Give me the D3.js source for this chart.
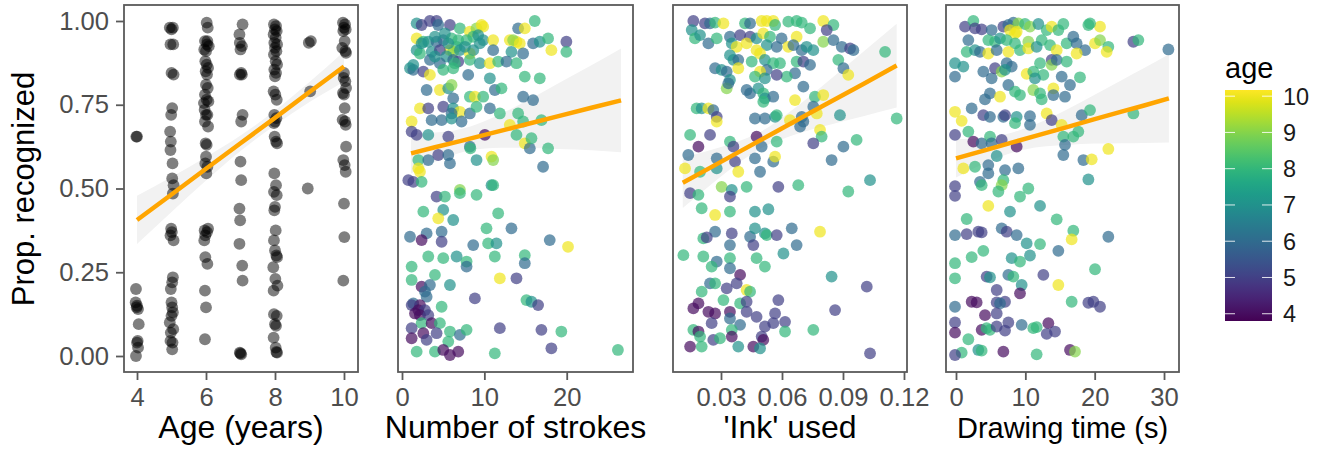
<!DOCTYPE html>
<html>
<head>
<meta charset="utf-8">
<script src="https://cdn.jsdelivr.net/npm/d3@7"></script>
<style>
  body { margin: 0; background: #fff; }
  text { font-family: "Liberation Sans", Arial, Helvetica, sans-serif; }
</style>
</head>
<body>
<script>
// ---- data ----
const yTicks = [0, 0.25, 0.5, 0.75, 1];
const ageTicks = [4, 6, 8, 10];
const strokeTicks = [0, 10, 20];
const inkTicks = [0.03, 0.06, 0.09, 0.12];
const timeTicks = [0, 10, 20, 30];
const legendTicks = [4, 5, 6, 7, 8, 9, 10];
const ageRange = [3.8, 10.17];

// panel 1: [age (jittered), prop. recognized]
const agePoints = [
  [3.98,0.655],[4.0,0.655],[3.97,0.20],[3.96,0.16],[4.0,0.15],[4.03,0.14],[3.99,0.145],[4.05,0.095],
  [4.02,0.045],[4.0,0.04],[4.03,0.025],[3.97,0.0],
  [4.95,0.98],[5.0,0.975],[5.04,0.98],[4.97,0.93],[5.05,0.93],[5.0,0.845],[5.06,0.84],[5.02,0.74],
  [4.99,0.72],[4.96,0.67],[4.98,0.64],[4.97,0.615],[5.03,0.575],[5.02,0.53],[5.06,0.51],[5.04,0.485],
  [4.99,0.38],[5.01,0.37],[4.97,0.36],[5.06,0.345],[5.04,0.235],[5.02,0.22],[4.98,0.20],[5.0,0.16],
  [5.02,0.145],[5.04,0.13],[5.0,0.12],[4.95,0.10],[5.05,0.08],[4.98,0.07],[4.97,0.045],[5.03,0.04],[5.02,0.02],
  [6.02,0.995],[6.05,0.98],[5.97,0.94],[6.03,0.93],[6.08,0.925],[5.95,0.915],[6.0,0.91],[6.04,0.94],
  [5.98,0.88],[6.02,0.87],[6.06,0.86],[5.99,0.85],[6.03,0.84],[6.0,0.81],[6.05,0.80],[5.97,0.78],
  [6.02,0.765],[5.94,0.755],[6.07,0.76],[5.96,0.735],[6.0,0.72],[6.04,0.72],[5.97,0.70],[6.06,0.685],
  [5.99,0.635],[6.02,0.63],[6.0,0.595],[5.98,0.575],[6.04,0.565],[6.01,0.545],[5.96,0.375],[6.03,0.37],
  [6.06,0.38],[5.98,0.36],[5.95,0.345],[5.98,0.295],[6.04,0.275],[5.97,0.195],[6.0,0.145],[5.97,0.05],
  [7.06,0.99],[6.97,0.96],[6.98,0.935],[7.04,0.925],[7.0,0.915],[7.02,0.845],[6.98,0.84],[7.04,0.84],
  [7.06,0.72],[7.02,0.70],[7.0,0.58],[7.02,0.525],[6.97,0.44],[6.99,0.405],[6.97,0.335],[7.05,0.27],
  [7.06,0.225],[6.98,0.01],[7.02,0.005],[7.0,0.008],
  [7.97,0.99],[8.03,0.985],[8.0,0.975],[8.05,0.97],[7.96,0.96],[8.02,0.95],[7.98,0.935],[8.06,0.93],
  [8.0,0.92],[8.04,0.91],[7.97,0.90],[8.02,0.88],[8.06,0.87],[7.98,0.855],[8.03,0.845],[8.0,0.835],
  [7.96,0.79],[8.01,0.78],[8.05,0.765],[7.98,0.72],[8.04,0.71],[8.0,0.70],[7.97,0.695],[7.99,0.655],
  [8.03,0.64],[8.06,0.635],[7.98,0.545],[8.03,0.51],[7.97,0.49],[8.05,0.48],[8.0,0.445],[7.98,0.435],
  [8.02,0.375],[7.97,0.345],[8.0,0.315],[8.04,0.30],[8.06,0.295],[7.95,0.265],[8.01,0.23],[8.07,0.21],
  [7.96,0.195],[7.97,0.125],[8.05,0.12],[8.0,0.095],[8.03,0.09],[7.96,0.055],[8.02,0.025],[8.06,0.01],[8.04,0.012],
  [8.98,0.935],[9.04,0.94],[9.02,0.79],[8.95,0.50],
  [9.97,0.995],[10.03,0.99],[10.0,0.98],[10.05,0.975],[9.98,0.97],[10.02,0.94],[9.95,0.92],[10.04,0.91],
  [10.06,0.905],[10.0,0.845],[9.99,0.83],[10.04,0.82],[10.06,0.80],[9.97,0.785],[10.0,0.78],[10.02,0.74],
  [9.96,0.705],[10.03,0.70],[10.05,0.69],[10.06,0.625],[9.98,0.585],[10.02,0.57],[10.05,0.55],[10.0,0.455],
  [10.01,0.355],[9.98,0.225]
];

// panel 2: [strokes, prop. recognized, age]
const strokePoints = [
  [1.78,0.993,7],[2.38,0.988,5],[3.39,1.0,5],[4.2,1.0,5],[4.4,0.988,6],[5.82,0.988,5],[7.03,0.978,8],
  [8.24,0.968,10],[9.05,0.978,9],[9.66,0.988,10],[9.86,0.983,10],[8.65,0.953,8],[9.25,0.958,7],
  [14.1,0.978,6],[14.91,0.978,10],[16.12,1.0,8],[1.78,0.948,10],[2.59,0.938,8],[3.19,0.938,7],
  [4.2,0.938,6],[5.01,0.943,6],[6.02,0.948,8],[6.83,0.943,8],[7.84,0.943,8],[6.63,0.923,8],
  [5.82,0.913,10],[6.22,0.908,9],[7.03,0.913,7],[8.24,0.903,10],[8.65,0.913,7],[9.45,0.933,7],
  [9.86,0.943,7],[11.07,0.943,10],[13.09,0.943,10],[13.9,0.938,10],[13.49,0.943,9],[14.3,0.933,10],
  [15.92,0.933,6],[16.73,0.938,7],[17.74,0.948,8],[19.96,0.938,5],[18.14,0.913,10],[19.96,0.908,8],
  [11.07,0.913,6],[13.29,0.908,7],[14.71,0.903,6],[1.78,0.913,7],[2.18,0.903,8],[3.6,0.908,7],
  [4.6,0.913,5],[5.41,0.894,7],[3.39,0.884,6],[4.6,0.874,6],[6.22,0.884,6],[6.83,0.879,5],
  [8.24,0.884,8],[9.45,0.874,7],[10.67,0.874,10],[11.68,0.879,8],[12.69,0.879,6],[13.9,0.874,8],
  [0.97,0.859,7],[1.37,0.854,6],[2.59,0.849,5],[3.39,0.839,10],[5.01,0.854,8],[6.22,0.859,8],
  [8.04,0.839,6],[10.67,0.829,7],[14.91,0.834,8],[16.73,0.829,8],[2.38,0.933,7],[4.0,0.953,7],
  [5.21,0.963,7],[7.64,0.923,7],[5.62,0.933,7],[4.0,0.894,7],[6.42,0.874,8],[1.37,0.869,7],
  [2.99,0.794,6],[4.6,0.794,10],[5.62,0.799,7],[6.02,0.809,9],[8.24,0.774,8],[8.85,0.774,10],
  [9.86,0.774,8],[11.27,0.794,6],[12.08,0.799,8],[14.71,0.774,6],[15.92,0.764,6],[6.22,0.769,6],
  [2.18,0.739,10],[3.19,0.739,5],[5.01,0.744,5],[6.22,0.739,7],[7.03,0.729,10],[6.02,0.724,6],
  [8.24,0.724,6],[9.05,0.744,8],[10.67,0.739,6],[11.88,0.724,8],[14.1,0.724,8],[3.6,0.704,6],
  [4.81,0.704,6],[6.02,0.709,7],[7.23,0.7,6],[1.17,0.7,10],[13.09,0.69,10],[14.71,0.7,8],
  [16.93,0.704,8],[1.17,0.67,5],[1.78,0.66,5],[3.19,0.66,7],[5.62,0.655,5],[10.06,0.66,4],
  [13.9,0.66,8],[8.24,0.625,6],[8.3,0.62,8],[14.91,0.635,10],[15.52,0.62,6],[15.72,0.65,8],
  [17.74,0.62,8],[1.98,0.585,8],[3.19,0.585,6],[4.4,0.6,5],[5.62,0.6,6],[5.82,0.575,6],
  [9.05,0.585,7],[10.87,0.595,10],[11.07,0.585,9],[1.98,0.56,10],[2.18,0.55,10],[17.13,0.565,6],
  [0.77,0.525,5],[1.37,0.52,5],[2.38,0.52,8],[7.03,0.496,9],[7.03,0.486,8],[9.05,0.481,8],
  [10.87,0.51,7],[11.07,0.51,8],[4.2,0.476,5],[5.21,0.476,8],[2.59,0.431,8],[5.01,0.436,7],
  [4.4,0.411,10],[6.22,0.406,7],[10.26,0.381,8],[13.29,0.381,6],[0.97,0.356,6],[2.99,0.366,6],
  [2.38,0.346,4],[4.81,0.371,6],[4.81,0.341,5],[8.65,0.331,6],[10.46,0.336,8],[11.47,0.336,7],
  [11.68,0.426,8],[17.94,0.346,6],[20.16,0.326,10],[3.19,0.297,8],[5.01,0.292,8],[6.63,0.297,7],
  [7.84,0.282,8],[7.84,0.267,6],[11.27,0.297,8],[14.91,0.301,8],[14.91,0.277,6],[1.17,0.267,8],
  [4.0,0.242,8],[1.17,0.227,8],[5.82,0.212,7],[2.38,0.207,4],[3.39,0.212,6],[11.88,0.232,10],
  [13.9,0.232,5],[2.79,0.192,6],[2.99,0.177,6],[1.37,0.157,6],[2.18,0.152,4],[1.17,0.152,5],
  [1.98,0.137,4],[2.79,0.137,5],[1.58,0.127,4],[2.18,0.122,4],[3.19,0.122,5],[4.81,0.147,8],
  [8.85,0.172,5],[15.11,0.167,8],[15.72,0.162,7],[16.53,0.152,5],[2.38,0.098,8],[3.6,0.098,4],
  [4.6,0.098,8],[1.17,0.083,5],[2.59,0.068,4],[4.2,0.068,5],[5.82,0.073,8],[7.03,0.063,6],
  [7.84,0.078,8],[1.17,0.053,4],[2.99,0.048,5],[5.62,0.043,8],[11.88,0.083,5],[16.93,0.078,5],
  [19.35,0.073,8],[1.78,0.013,8],[4.0,0.013,8],[5.01,0.018,4],[5.82,0.003,4],[6.83,0.013,4],
  [11.27,0.008,8],[18.14,0.023,5],[26.22,0.018,8]
];

// panel 3: ['ink' used, prop. recognized, age]
const inkPoints = [
  [0.0164,1.0,5],[0.0221,0.993,5],[0.0246,0.993,6],[0.0271,0.995,8],[0.0312,0.993,10],[0.0418,0.993,8],
  [0.0443,0.993,6],[0.05,1.0,10],[0.0525,1.0,10],[0.0557,1.0,10],[0.0566,0.988,8],[0.0631,0.998,8],
  [0.0672,1.0,8],[0.0697,0.995,8],[0.0738,0.978,8],[0.0803,1.0,10],[0.0853,0.988,8],[0.082,0.973,5],
  [0.0156,0.973,7],[0.0172,0.948,8],[0.0197,0.958,7],[0.0238,0.933,6],[0.0279,0.948,8],[0.0344,0.953,6],
  [0.0394,0.958,5],[0.0443,0.953,5],[0.0353,0.933,7],[0.0377,0.923,10],[0.0426,0.933,10],[0.0475,0.948,7],
  [0.0508,0.963,10],[0.0541,0.953,8],[0.0598,0.948,6],[0.0631,0.923,10],[0.0672,0.953,10],[0.0656,0.928,6],
  [0.0697,0.913,6],[0.0754,0.913,7],[0.0803,0.938,9],[0.0853,0.943,6],[0.0894,0.923,6],[0.0935,0.918,5],
  [0.0951,0.913,6],[0.1107,0.908,8],[0.0721,0.923,7],[0.0525,0.928,7],[0.0574,0.923,6],[0.0475,0.913,10],
  [0.0344,0.898,7],[0.0361,0.884,7],[0.0385,0.884,6],[0.0451,0.879,8],[0.0492,0.903,10],[0.0516,0.884,7],
  [0.0557,0.874,8],[0.059,0.874,8],[0.0672,0.879,8],[0.0705,0.879,5],[0.0738,0.869,6],[0.0271,0.859,6],
  [0.0303,0.854,7],[0.0328,0.849,6],[0.0385,0.859,10],[0.0525,0.854,6],[0.0492,0.849,10],[0.0664,0.844,6],
  [0.0623,0.834,8],[0.0574,0.839,5],[0.0877,0.884,8],[0.0902,0.859,6],[0.0926,0.839,10],[0.0467,0.834,8],
  [0.0516,0.829,7],[0.0344,0.824,7],[0.0328,0.799,9],[0.0336,0.814,6],[0.0426,0.794,6],[0.0443,0.784,6],
  [0.0484,0.799,7],[0.0508,0.784,8],[0.0516,0.769,7],[0.0557,0.774,6],[0.0705,0.804,6],[0.0762,0.774,8],
  [0.0803,0.779,10],[0.0664,0.764,10],[0.0508,0.759,8],[0.018,0.739,8],[0.0205,0.739,7],[0.0238,0.739,10],
  [0.0262,0.734,6],[0.0279,0.714,5],[0.0279,0.7,10],[0.0467,0.709,6],[0.0516,0.709,6],[0.0566,0.714,7],
  [0.0574,0.719,8],[0.0639,0.704,10],[0.0697,0.714,6],[0.0705,0.7,6],[0.0754,0.744,6],[0.0771,0.724,10],
  [0.0885,0.719,7],[0.1164,0.709,8],[0.0787,0.675,10],[0.0795,0.655,8],[0.0148,0.66,8],[0.0246,0.66,5],
  [0.0475,0.655,4],[0.0344,0.64,8],[0.0361,0.625,5],[0.05,0.625,6],[0.0574,0.64,8],[0.0754,0.635,5],
  [0.0902,0.625,6],[0.0967,0.645,8],[0.0689,0.685,6],[0.0139,0.6,6],[0.0189,0.625,4],[0.0279,0.59,6],
  [0.0369,0.58,5],[0.0467,0.59,6],[0.0557,0.58,6],[0.0566,0.595,10],[0.0844,0.585,6],[0.0123,0.56,10],
  [0.0197,0.55,8],[0.0279,0.56,7],[0.0385,0.55,10],[0.0492,0.55,6],[0.1033,0.525,7],[0.0303,0.505,9],
  [0.0353,0.496,7],[0.0426,0.505,8],[0.0582,0.505,5],[0.068,0.51,8],[0.0148,0.486,5],[0.0189,0.481,8],
  [0.0344,0.476,5],[0.0926,0.491,8],[0.0205,0.441,8],[0.0271,0.421,10],[0.0344,0.431,8],[0.0467,0.431,7],
  [0.0533,0.438,7],[0.0271,0.371,6],[0.0213,0.351,8],[0.023,0.354,5],[0.0353,0.366,5],[0.0443,0.356,6],
  [0.0467,0.381,7],[0.0516,0.366,7],[0.0525,0.361,8],[0.0574,0.361,5],[0.0648,0.381,6],[0.0672,0.331,6],
  [0.0787,0.371,10],[0.0344,0.331,6],[0.0459,0.331,5],[0.0115,0.301,8],[0.0213,0.297,8],[0.0279,0.282,6],
  [0.0344,0.292,8],[0.0475,0.292,8],[0.0516,0.267,8],[0.0607,0.306,7],[0.0254,0.267,8],[0.0344,0.262,6],
  [0.0394,0.242,4],[0.0377,0.217,5],[0.0246,0.217,6],[0.0271,0.217,8],[0.0328,0.202,5],[0.0205,0.192,8],
  [0.0426,0.197,10],[0.0443,0.192,8],[0.0312,0.167,8],[0.0394,0.157,8],[0.0426,0.162,5],[0.0582,0.167,5],
  [0.0844,0.237,7],[0.1017,0.207,5],[0.0189,0.157,4],[0.0164,0.142,4],[0.0238,0.132,4],[0.0271,0.127,4],
  [0.0344,0.132,4],[0.0344,0.112,6],[0.0426,0.132,5],[0.0475,0.117,5],[0.0566,0.127,5],[0.0254,0.098,5],
  [0.0394,0.093,6],[0.0516,0.088,5],[0.0557,0.098,5],[0.0615,0.102,5],[0.0861,0.137,5],[0.0164,0.078,8],
  [0.0189,0.073,4],[0.0197,0.058,8],[0.0262,0.048,5],[0.0295,0.053,8],[0.0353,0.078,8],[0.0353,0.058,4],
  [0.05,0.058,5],[0.0508,0.048,4],[0.0615,0.073,8],[0.0754,0.078,8],[0.0148,0.028,4],[0.0205,0.028,8],
  [0.0385,0.028,7],[0.0459,0.028,4],[0.0492,0.023,7],[0.1033,0.008,5]
];

// panel 4: [drawing time (s), prop. recognized, age]
const timePoints = [
  [1.3,0.983,5],[2.5,1.0,8],[2.74,0.978,5],[3.7,0.975,5],[5.14,0.973,6],[6.83,0.983,5],[7.55,0.988,6],
  [8.27,0.995,6],[7.79,0.973,10],[8.99,0.993,9],[9.95,0.991,8],[10.67,0.983,9],[11.88,0.991,7],
  [13.08,0.973,8],[13.8,0.983,10],[14.76,0.973,8],[15.48,0.991,8],[19.09,0.988,8],[20.77,0.983,10],
  [19.33,0.993,8],[8.51,0.963,10],[8.75,0.968,10],[1.78,0.943,6],[4.66,0.943,8],[5.63,0.938,8],
  [6.35,0.948,7],[7.31,0.943,8],[8.51,0.933,8],[10.43,0.938,9],[12.36,0.943,8],[13.56,0.928,8],
  [15.96,0.933,8],[16.92,0.953,6],[17.4,0.933,6],[20.05,0.933,10],[20.77,0.943,9],[21.97,0.923,8],
  [18.61,0.913,6],[1.54,0.908,8],[2.74,0.913,7],[3.46,0.908,6],[4.66,0.903,10],[5.87,0.913,6],
  [7.55,0.908,10],[9.23,0.913,8],[10.43,0.918,10],[14.52,0.913,10],[17.4,0.903,10],[21.73,0.908,10],
  [25.58,0.938,5],[26.3,0.943,8],[30.63,0.915,6],[11.63,0.923,7],[13.8,0.884,5],[-0.14,0.874,7],
  [1.06,0.864,7],[-0.14,0.834,6],[3.94,0.849,6],[5.14,0.829,6],[5.63,0.859,5],[6.59,0.849,9],
  [7.31,0.874,6],[8.03,0.864,6],[10.19,0.842,10],[11.15,0.849,8],[12.12,0.874,8],[12.6,0.839,8],
  [13.8,0.869,9],[14.52,0.884,6],[15.96,0.879,8],[15.24,0.834,6],[16.44,0.809,6],[17.88,0.832,8],
  [7.55,0.809,6],[7.07,0.854,7],[11.39,0.829,7],[4.9,0.784,6],[4.18,0.766,6],[6.35,0.774,10],
  [8.51,0.789,8],[9.23,0.779,8],[11.15,0.794,9],[12.12,0.784,8],[12.36,0.766,8],[14.04,0.799,10],
  [14.04,0.779,6],[15.72,0.774,6],[-0.14,0.729,10],[0.82,0.702,10],[2.26,0.739,6],[3.94,0.719,5],
  [4.9,0.714,6],[6.83,0.714,6],[7.07,0.719,5],[8.75,0.714,7],[8.51,0.695,8],[10.67,0.716,6],
  [10.67,0.69,6],[13.08,0.724,10],[13.8,0.704,5],[18.13,0.719,6],[19.33,0.734,8],[25.58,0.724,8],
  [-0.14,0.66,5],[1.78,0.67,8],[2.5,0.64,4],[3.7,0.635,6],[4.9,0.655,8],[5.14,0.635,6],[6.59,0.645,5],
  [8.75,0.625,4],[15.24,0.69,10],[15.48,0.655,8],[16.92,0.655,8],[17.64,0.67,8],[15.72,0.63,6],
  [15.48,0.6,6],[18.37,0.585,6],[19.57,0.587,10],[21.97,0.618,10],[5.87,0.597,7],[1.06,0.56,10],
  [2.74,0.565,8],[4.66,0.57,6],[4.66,0.545,6],[7.07,0.555,6],[8.99,0.56,6],[3.46,0.52,6],[3.7,0.51,8],
  [6.83,0.525,8],[6.59,0.51,9],[6.11,0.491,8],[-0.14,0.507,5],[-0.14,0.478,5],[10.43,0.5,8],
  [9.23,0.476,8],[4.66,0.448,10],[19.09,0.527,7],[7.79,0.431,7],[12.12,0.448,7],[14.52,0.408,8],
  [1.54,0.409,8],[-0.14,0.361,6],[1.54,0.364,5],[3.22,0.371,5],[3.7,0.369,5],[6.59,0.381,6],
  [7.31,0.371,5],[8.75,0.361,6],[10.19,0.336,7],[12.12,0.334,8],[16.92,0.374,8],[16.68,0.348,10],
  [21.97,0.356,6],[3.94,0.314,8],[2.26,0.295,8],[8.03,0.292,7],[9.23,0.282,8],[10.67,0.3,7],
  [14.76,0.314,6],[-0.14,0.277,8],[-0.14,0.232,8],[4.42,0.237,5],[4.9,0.235,7],[7.55,0.242,6],
  [8.27,0.237,8],[9.47,0.212,7],[12.6,0.242,5],[14.76,0.212,10],[20.05,0.259,8],[5.87,0.197,5],
  [9.23,0.187,4],[2.26,0.162,4],[2.98,0.16,4],[5.87,0.16,5],[7.07,0.162,5],[6.35,0.157,6],
  [16.68,0.162,8],[19.09,0.159,5],[19.81,0.162,5],[20.77,0.147,5],[-0.14,0.147,6],[4.18,0.122,4],
  [5.87,0.127,5],[-0.14,0.1,5],[3.7,0.078,4],[4.42,0.083,8],[4.9,0.078,8],[5.87,0.088,5],[7.07,0.076,5],
  [7.55,0.1,5],[9.47,0.093,6],[11.15,0.083,8],[11.63,0.086,8],[13.32,0.098,4],[13.08,0.066,5],
  [14.28,0.073,5],[-0.14,0.07,4],[1.78,0.05,8],[0.82,0.01,8],[-0.14,0.003,5],[3.22,0.018,7],
  [3.7,0.016,8],[6.83,0.013,4],[11.63,0.005,8],[16.44,0.018,4],[17.16,0.013,9]
];

// linear fits: [x, fitted value, half-width of the 95% band]
const ageFit = [[4,0.406,0.072],[5,0.482,0.052],[6,0.559,0.035],[7,0.635,0.023],[8,0.711,0.022],[9,0.788,0.03],[10,0.864,0.045]];
const strokeFit = [[1.1,0.605,0.06],[4,0.623,0.044],[7.3,0.643,0.035],[11,0.666,0.045],[15,0.691,0.069],[19,0.716,0.098],[23,0.741,0.127],[26.6,0.763,0.155]];
const inkFit = [[0.0112,0.517,0.075],[0.025,0.563,0.052],[0.04,0.613,0.031],[0.05,0.646,0.025],[0.065,0.696,0.038],[0.08,0.746,0.061],[0.1,0.812,0.096],[0.1164,0.867,0.125]];
const timeFit = [[0,0.59,0.057],[4,0.613,0.039],[8.4,0.639,0.03],[12,0.66,0.036],[16,0.683,0.053],[20,0.707,0.073],[24,0.73,0.095],[27,0.747,0.111],[30.7,0.769,0.132]];

// ---- layout ----
const W = 1322, H = 452;
const frameTop = 5, frameBottom = 372;
const font = "'Liberation Sans', Arial, Helvetica, sans-serif";
const frameCol = "#5a5a5a";

const panels = [
  {points: agePoints, fit: ageFit, left: 124, right: 358, domain: [3.623, 10.406], ticks: ageTicks, fmt: d3.format("d"), title: "Age (years)", titleSize: 32, coloured: false},
  {points: strokePoints, fit: strokeFit, left: 398, right: 633, domain: [-0.486, 28.05], ticks: strokeTicks, fmt: d3.format("d"), title: "Number of strokes", titleSize: 32, coloured: true},
  {points: inkPoints, fit: inkFit, left: 673, right: 907, domain: [0.00639, 0.12148], ticks: inkTicks, fmt: d3.format(".2f"), title: "'Ink' used", titleSize: 32, coloured: true},
  {points: timePoints, fit: timeFit, left: 946, right: 1179, domain: [-1.442, 32.16], ticks: timeTicks, fmt: d3.format("d"), title: "Drawing time (s)", titleSize: 29, coloured: true}
];

const svg = d3.select("body").append("svg")
  .attr("width", W)
  .attr("height", H)
  .attr("font-family", font);

const y = d3.scaleLinear().domain([0, 1]).range([356, 21]);
const colour = d3.scaleSequential(d3.interpolateViridis).domain(ageRange);

panels.forEach((p) => {
  const x = d3.scaleLinear().domain(p.domain).range([p.left, p.right]);
  const g = svg.append("g");

  // confidence band
  g.append("path")
    .datum(p.fit)
    .attr("d", d3.area()
      .x(d => x(d[0]))
      .y0(d => y(d[1] - d[2]))
      .y1(d => y(d[1] + d[2]))
      .curve(d3.curveMonotoneX))
    .attr("fill", "#f2f2f2");

  g.append("g").selectAll("circle")
    .data(p.points)
    .join("circle")
      .attr("cx", d => x(d[0]))
      .attr("cy", d => y(d[1]))
      .attr("r", 5.9)
      .attr("fill", d => p.coloured ? colour(d[2]) : "black")
      .attr("fill-opacity", p.coloured ? 0.7 : 0.5);

  g.append("path")
    .datum(p.fit)
    .attr("d", d3.line().x(d => x(d[0])).y(d => y(d[1])))
    .attr("fill", "none")
    .attr("stroke", "#FFA500")
    .attr("stroke-width", 4.5);

  g.append("rect")
    .attr("x", p.left)
    .attr("y", frameTop)
    .attr("width", p.right - p.left)
    .attr("height", frameBottom - frameTop)
    .attr("fill", "none")
    .attr("stroke", frameCol)
    .attr("stroke-width", 1.8);

  const ax = g.append("g")
    .attr("transform", `translate(0,${frameBottom})`)
    .call(d3.axisBottom(x).tickValues(p.ticks).tickFormat(p.fmt).tickSize(8).tickPadding(8));
  ax.select(".domain").remove();
  ax.selectAll("line").attr("stroke", frameCol).attr("stroke-width", 1.8);
  ax.selectAll("text").attr("fill", "#4d4d4d").attr("font-size", 25.6).attr("font-family", font);

  g.append("text")
    .attr("x", (p.left + p.right) / 2)
    .attr("y", 438)
    .attr("text-anchor", "middle")
    .attr("font-size", p.titleSize)
    .attr("fill", "black")
    .text(p.title);
});

// y axis (first panel only)
const yAxis = svg.append("g")
  .attr("transform", `translate(${panels[0].left},0)`)
  .call(d3.axisLeft(y).tickValues(yTicks).tickFormat(d3.format(".2f")).tickSize(8).tickPadding(7));
yAxis.select(".domain").remove();
yAxis.selectAll("line").attr("stroke", frameCol).attr("stroke-width", 1.8);
yAxis.selectAll("text").attr("fill", "#4d4d4d").attr("font-size", 25.6).attr("font-family", font);

svg.append("text")
  .attr("transform", "translate(34,189) rotate(-90)")
  .attr("text-anchor", "middle")
  .attr("font-size", 31)
  .text("Prop. recognized");

// colour bar legend
const legendY = d3.scaleLinear().domain(ageRange).range([321, 90]);
const barX = 1225, barW = 47;
const grad = svg.append("defs").append("linearGradient")
  .attr("id", "viridis")
  .attr("x1", 0).attr("y1", 1).attr("x2", 0).attr("y2", 0);
d3.range(0, 1.0001, 0.05).forEach(t => {
  grad.append("stop")
    .attr("offset", t)
    .attr("stop-color", d3.interpolateViridis(t));
});
svg.append("rect")
  .attr("x", barX)
  .attr("y", legendY(ageRange[1]))
  .attr("width", barW)
  .attr("height", legendY(ageRange[0]) - legendY(ageRange[1]))
  .attr("fill", "url(#viridis)");

const lt = svg.append("g").selectAll("g")
  .data(legendTicks)
  .join("g")
    .attr("transform", d => `translate(0,${legendY(d)})`);
lt.append("line").attr("x1", barX).attr("x2", barX + 10)
  .attr("stroke", "white").attr("stroke-opacity", 0.85).attr("stroke-width", 1);
lt.append("line").attr("x1", barX + barW - 10).attr("x2", barX + barW)
  .attr("stroke", "white").attr("stroke-opacity", 0.85).attr("stroke-width", 1);
lt.append("text")
  .attr("x", 1283)
  .attr("dy", "0.36em")
  .attr("font-size", 23.5)
  .attr("fill", "#1a1a1a")
  .text(d => d);

svg.append("text")
  .attr("x", barX)
  .attr("y", 78)
  .attr("font-size", 29)
  .text("age");
</script>
</body>
</html>
